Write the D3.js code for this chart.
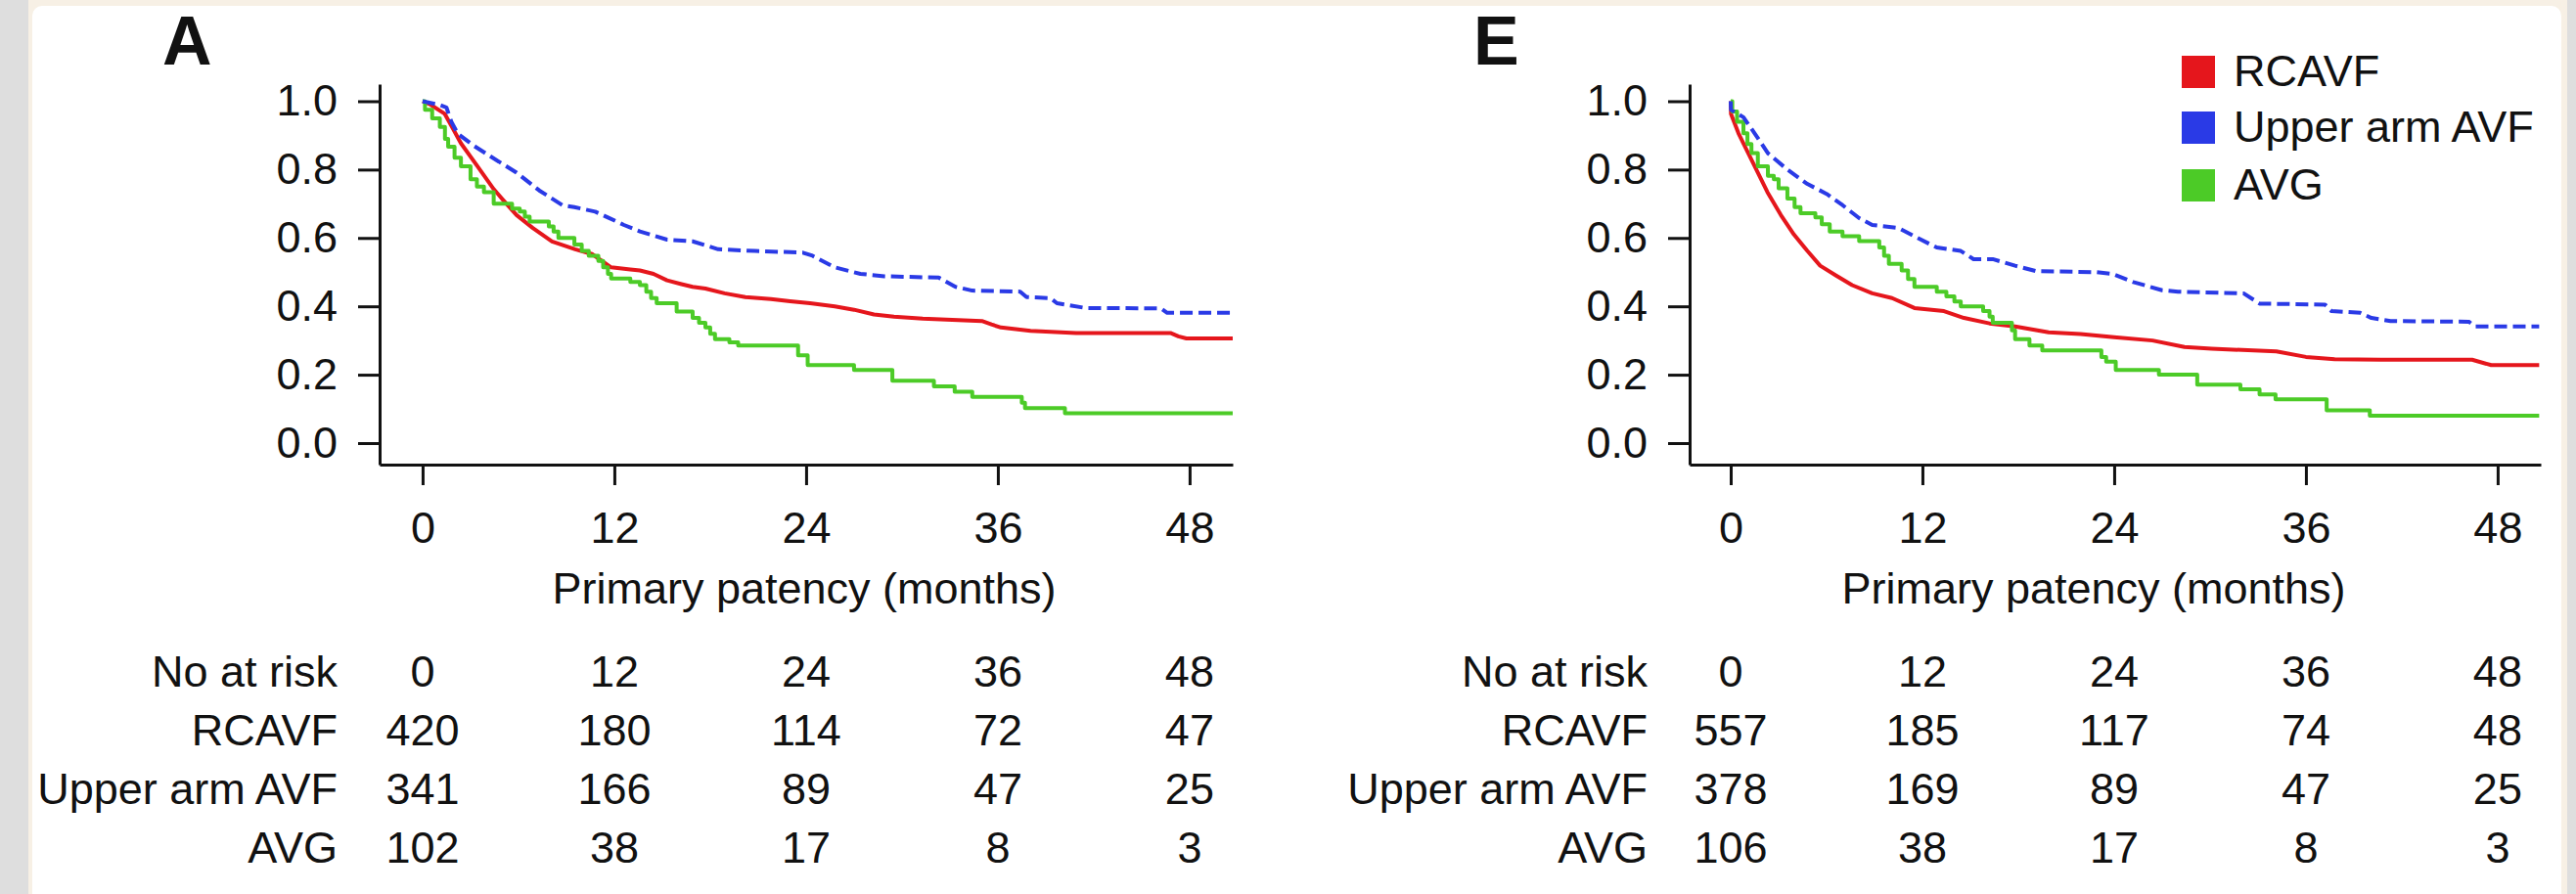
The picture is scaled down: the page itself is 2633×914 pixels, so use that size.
<!DOCTYPE html>
<html>
<head>
<meta charset="utf-8">
<script src="https://cdn.jsdelivr.net/npm/d3@7"></script>
<style>
  html, body { margin: 0; padding: 0; background: #dedede; }
  svg { display: block; }
  text { font-family: "Liberation Sans", Arial, Helvetica, sans-serif; fill: #111; }
</style>
</head>
<body>
<svg id="chart" width="2633" height="914"></svg>
<script>
// ---------------- DATA ----------------
const monthTicks = [0, 12, 24, 36, 48];
const survivalTicks = [0, 0.2, 0.4, 0.6, 0.8, 1.0];
const groups = ["RCAVF", "Upper arm AVF", "AVG"];
const panelLabels = ["A", "E"];
const xTitle = "Primary patency (months)";
const riskHeader = "No at risk";

// Numbers at risk (panel A)
const riskA_RCAVF = [420, 180, 114, 72, 47];
const riskA_Upper = [341, 166, 89, 47, 25];
const riskA_AVG = [102, 38, 17, 8, 3];
// Numbers at risk (panel E)
const riskE_RCAVF = [557, 185, 117, 74, 48];
const riskE_Upper = [378, 169, 89, 47, 25];
const riskE_AVG = [106, 38, 17, 8, 3];

// Kaplan-Meier curves, panel A: [month, survival]
const curveA_RCAVF = [[0,1.0],[0.5,0.99],[1.39,0.963],[1.9,0.92],[2.4,0.877],[3.43,0.81],[4.45,0.743],[5.06,0.71],[5.88,0.667],[6.9,0.629],[8.1,0.59],[9.55,0.567],[10.6,0.553],[11.3,0.53],[11.8,0.514],[13.0,0.508],[13.6,0.505],[14.45,0.495],[15.3,0.476],[16.2,0.465],[16.9,0.457],[17.7,0.452],[18.9,0.438],[20.2,0.427],[21.8,0.421],[23.0,0.415],[24.25,0.409],[25.8,0.40],[27.0,0.39],[28.25,0.376],[29.5,0.37],[31.3,0.364],[35.0,0.357],[35.6,0.347],[36.2,0.338],[38.05,0.328],[40.9,0.322],[46.8,0.322],[47.3,0.312],[47.8,0.306],[50.7,0.306]];
const curveA_Upper = [[0,1.0],[1.0,0.99],[1.49,0.982],[1.8,0.94],[2.2,0.905],[3.2,0.87],[4.24,0.839],[5.88,0.791],[7.3,0.739],[8.74,0.696],[9.5,0.69],[10.8,0.677],[11.6,0.66],[12.6,0.638],[13.6,0.619],[15.3,0.595],[16.9,0.59],[18.5,0.567],[20.8,0.562],[23.8,0.557],[24.4,0.548],[25.8,0.514],[27.4,0.495],[28.9,0.488],[32.3,0.484],[33.35,0.457],[34.4,0.446],[37.4,0.443],[37.8,0.427],[39.3,0.424],[39.7,0.409],[41.5,0.395],[46.2,0.394],[46.6,0.381],[50.7,0.381]];
const curveA_AVG = [[0,1.0],[0.15,0.975],[0.6,0.95],[1.08,0.925],[1.4,0.89],[1.6,0.867],[2.0,0.835],[2.4,0.81],[3.0,0.772],[3.4,0.75],[3.84,0.734],[4.45,0.70],[5.6,0.686],[6.08,0.677],[6.4,0.662],[6.7,0.648],[7.9,0.634],[8.2,0.619],[8.5,0.60],[9.5,0.581],[9.96,0.562],[10.4,0.548],[11.0,0.533],[11.3,0.514],[11.6,0.495],[11.8,0.481],[13.0,0.471],[13.6,0.462],[14.0,0.443],[14.3,0.424],[14.65,0.409],[15.9,0.385],[16.9,0.366],[17.3,0.352],[17.7,0.338],[18.0,0.32],[18.3,0.304],[19.2,0.295],[19.75,0.285],[23.5,0.257],[24.1,0.228],[27.0,0.214],[29.4,0.182],[32.0,0.166],[33.3,0.15],[34.4,0.135],[37.5,0.118],[37.7,0.102],[40.2,0.087],[50.7,0.087]];

// Kaplan-Meier curves, panel E
const curveE_RCAVF = [[0,1.0],[0.02,0.963],[0.49,0.906],[1.5,0.81],[2.3,0.734],[3.14,0.667],[3.96,0.61],[4.8,0.562],[5.6,0.519],[6.6,0.49],[7.6,0.462],[8.86,0.438],[10.1,0.424],[11.5,0.395],[13.35,0.386],[14.6,0.366],[16.2,0.35],[17.8,0.341],[19.9,0.324],[21.9,0.319],[24.0,0.31],[26.4,0.30],[28.4,0.281],[30.1,0.276],[34.15,0.268],[36.0,0.252],[37.8,0.245],[40.7,0.244],[46.4,0.244],[47.6,0.228],[50.6,0.228]];
const curveE_Upper = [[0,1.0],[0.02,0.975],[0.8,0.953],[1.5,0.906],[2.33,0.848],[3.55,0.8],[4.8,0.758],[6.0,0.729],[7.0,0.696],[8.04,0.658],[8.86,0.638],[10.5,0.629],[11.7,0.6],[12.9,0.572],[14.4,0.562],[15.2,0.538],[16.4,0.538],[17.8,0.519],[19.1,0.503],[22.9,0.5],[23.9,0.495],[25.2,0.471],[27.0,0.447],[28.0,0.443],[32.1,0.438],[32.9,0.414],[33.1,0.408],[37.2,0.405],[37.6,0.386],[39.4,0.381],[40.1,0.366],[41.3,0.357],[46.2,0.355],[46.6,0.341],[50.6,0.341]];
const curveE_AVG = [[0,1.0],[0.1,0.97],[0.4,0.94],[0.8,0.906],[1.05,0.875],[1.3,0.848],[1.7,0.81],[2.33,0.782],[2.7,0.772],[3.0,0.745],[3.55,0.715],[4.0,0.69],[4.37,0.672],[5.3,0.66],[5.7,0.64],[6.2,0.619],[7.0,0.605],[8.04,0.591],[9.3,0.572],[9.6,0.548],[9.9,0.524],[10.7,0.505],[11.1,0.48],[11.5,0.457],[12.9,0.443],[13.5,0.429],[14.0,0.414],[14.4,0.40],[15.8,0.386],[16.2,0.37],[16.4,0.352],[17.6,0.33],[17.8,0.304],[18.7,0.285],[19.5,0.271],[23.2,0.252],[23.5,0.238],[24.1,0.214],[26.8,0.2],[29.2,0.171],[31.9,0.157],[33.1,0.142],[34.1,0.128],[37.3,0.096],[40.0,0.08],[50.6,0.08]];

const seriesColors = ["#e5161c", "#2a3ae6", "#4ccb27"];

// ---------------- DRAW ----------------
const svg = d3.select("#chart");
const W = 2633, H = 914;

// page frame
svg.append("rect").attr("x", 0).attr("y", 0).attr("width", W).attr("height", H).attr("fill", "#dedede");
svg.append("rect").attr("x", 29).attr("y", 0).attr("width", 2595).attr("height", H).attr("fill", "#f7f0e5");
svg.append("rect").attr("x", 33).attr("y", 6).attr("width", 2585).attr("height", H + 20).attr("rx", 10).attr("fill", "#ffffff");

const panels = [
  { label: panelLabels[0], labelX: 166, xRange: [388, 1260], xDomain: [-2.69, 50.7], titleX: 822,
    curves: [curveA_RCAVF, curveA_Upper, curveA_AVG], risk: [riskA_RCAVF, riskA_Upper, riskA_AVG], legend: false },
  { label: panelLabels[1], labelX: 1506, xRange: [1727, 2597], xDomain: [-2.57, 50.7], titleX: 2140,
    curves: [curveE_RCAVF, curveE_Upper, curveE_AVG], risk: [riskE_RCAVF, riskE_Upper, riskE_AVG], legend: true }
];

const yRange = [475, 86];
const yDomain = [-0.063, 1.05];
const FS = 45;

panels.forEach(p => {
  const x = d3.scaleLinear().domain(p.xDomain).range(p.xRange);
  const y = d3.scaleLinear().domain(yDomain).range(yRange);
  const g = svg.append("g");

  // panel letter
  g.append("text").attr("x", p.labelX).attr("y", 66)
    .attr("font-size", 70).attr("font-weight", "bold").text(p.label);

  // y axis
  const yAxis = d3.axisLeft(y).tickValues(survivalTicks).tickFormat(d3.format(".1f"))
    .tickSize(22).tickSizeOuter(0).tickPadding(21);
  const yg = g.append("g").attr("transform", `translate(${p.xRange[0]},0)`).call(yAxis);
  // x axis
  const xAxis = d3.axisBottom(x).tickValues(monthTicks).tickFormat(d3.format("d"))
    .tickSize(21).tickSizeOuter(0).tickPadding(27);
  const xg = g.append("g").attr("transform", `translate(0,${yRange[0]})`).call(xAxis);

  [yg, xg].forEach(a => {
    a.select(".domain").attr("stroke", "#111").attr("stroke-width", 3);
    a.selectAll(".tick line").attr("stroke", "#111").attr("stroke-width", 3);
    a.selectAll(".tick text").attr("font-size", FS)
      .attr("font-family", "'Liberation Sans', Arial, sans-serif").attr("fill", "#111");
  });

  // curves
  const lineLin = d3.line().x(d => x(d[0])).y(d => y(d[1])).curve(d3.curveLinear);
  const lineStep = d3.line().x(d => x(d[0])).y(d => y(d[1])).curve(d3.curveStepAfter);
  [0, 2, 1].forEach(i => {
    g.append("path").datum(p.curves[i])
      .attr("d", i === 2 ? lineStep : lineLin)
      .attr("fill", "none").attr("stroke", seriesColors[i]).attr("stroke-width", 4)
      .attr("stroke-linejoin", "round")
      .attr("stroke-dasharray", i === 1 ? "13,6" : null);
  });

  // x title
  g.append("text").attr("x", p.titleX).attr("y", 617).attr("text-anchor", "middle")
    .attr("font-size", FS).text(xTitle);

  // risk table
  const rowBase = [702, 762, 822, 882];
  const labelRight = p.xRange[0] - 43;
  const rowLabels = [riskHeader].concat(groups);
  const rowValues = [monthTicks].concat(p.risk);
  rowLabels.forEach((lab, r) => {
    g.append("text").attr("x", labelRight).attr("y", rowBase[r]).attr("text-anchor", "end")
      .attr("font-size", FS).text(lab);
    g.selectAll(null).data(rowValues[r]).enter().append("text")
      .attr("x", (d, j) => x(monthTicks[j])).attr("y", rowBase[r])
      .attr("text-anchor", "middle").attr("font-size", FS).text(d => d);
  });

  // legend
  if (p.legend) {
    const lg = g.append("g");
    const legTop = [57, 114, 173];
    groups.forEach((name, i) => {
      lg.append("rect").attr("x", 2230).attr("y", legTop[i]).attr("width", 34).attr("height", 33)
        .attr("fill", seriesColors[i]);
      lg.append("text").attr("x", 2283).attr("y", legTop[i] + 31).attr("font-size", FS).text(name);
    });
  }
});
</script>
</body>
</html>
